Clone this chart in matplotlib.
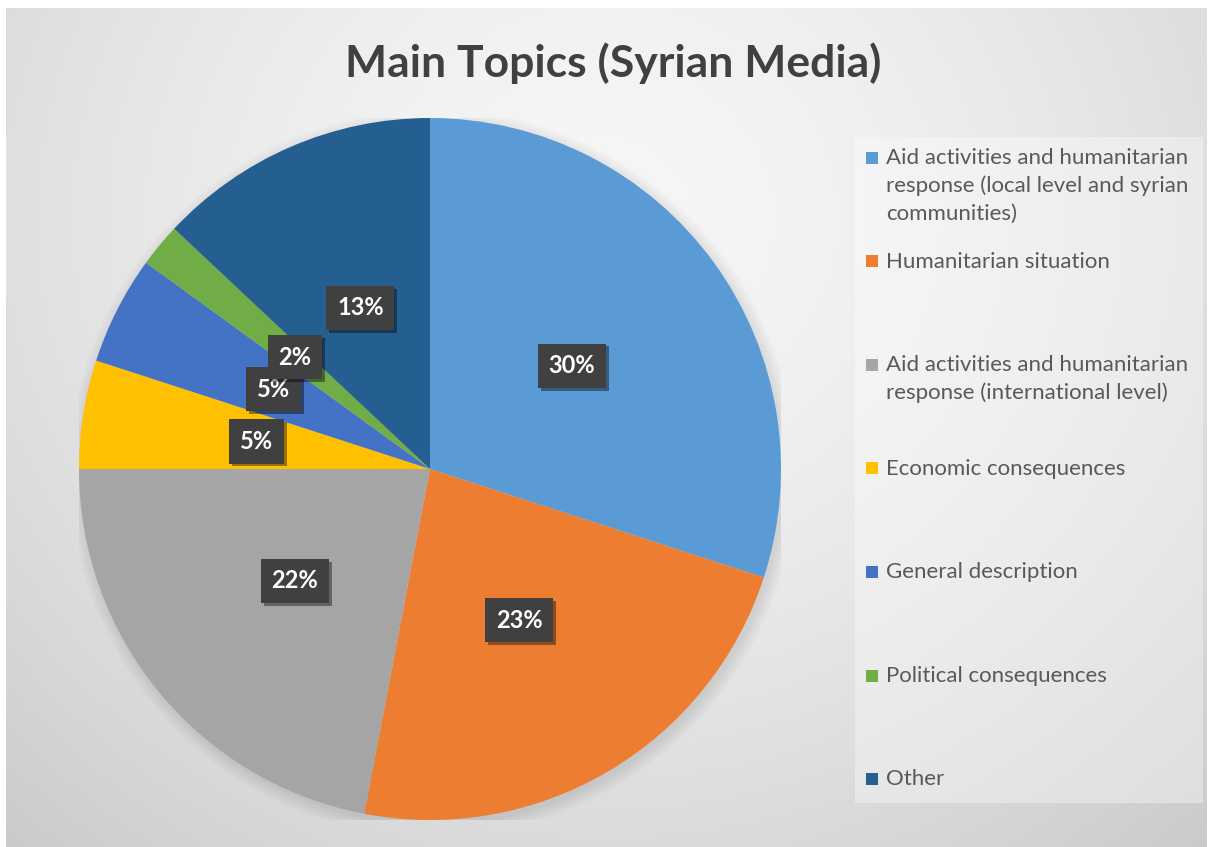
import textwrap
import numpy as np
import matplotlib.pyplot as plt
import matplotlib.patheffects as pe
from matplotlib.patches import Rectangle, Circle

# topic shares (percent)
topics = [
    "Aid activities and humanitarian response (local level and syrian communities)",
    "Humanitarian situation",
    "Aid activities and humanitarian response (international level)",
    "Economic consequences",
    "General description",
    "Political consequences",
    "Other",
]
shares = [30, 23, 22, 5, 5, 2, 13]
colors = ["#5B9BD5", "#ED7D31", "#A5A5A5", "#FFC000", "#4472C4", "#70AD47", "#255E91"]

W, H = 1210, 847
plt.rcParams['font.family'] = ['Lato', 'DejaVu Sans']

fig = plt.figure(figsize=(W / 100, H / 100), dpi=100, facecolor="white")


def fx(x):
    return x / W


def fy(y):
    return 1 - y / H


# radial grey backdrop
bg = fig.add_axes([fx(6), 0, fx(1207) - fx(6), fy(8)], zorder=-10)
gx, gy = np.meshgrid(np.linspace(0, 1, 400), np.linspace(0, 1, 300))
d = np.sqrt(((gx - 0.5) / 0.75) ** 2 + ((gy - 0.25) / 1.0) ** 2)
shade = np.clip(0.965 - 0.17 * d ** 1.6, 0.76, 1)
bg.imshow(np.dstack([shade] * 3), aspect="auto", extent=[0, 1, 1, 0])
bg.axis("off")

# pie
cx, cy, r = 430, 469, 351
ax = fig.add_axes([fx(cx - r), fy(cy + r), 2 * r / W, 2 * r / H])
# soft shadow under the pie
for k in range(8):
    ax.add_patch(Circle((0.008, -0.012), 1.0 + 0.005 * k, color="black",
                        alpha=0.012, lw=0, zorder=0))
wedges, texts, autotexts = ax.pie(
    shares, colors=colors, startangle=90, counterclock=False, radius=1,
    autopct=lambda p: f"{p:.0f}%", pctdistance=0.5,
    wedgeprops=dict(linewidth=0),
    textprops=dict(color="white", fontsize=17, fontweight="bold"),
)
for t in autotexts:
    t.set_bbox(dict(boxstyle="square,pad=0.45", fc="#404040", ec="none"))
    t.get_bbox_patch().set_path_effects(
        [pe.withSimplePatchShadow(offset=(2, -2), shadow_rgbFace="black", alpha=0.4)])
ax.set_aspect("equal")
ax.set_xlim(-1, 1)
ax.set_ylim(-1, 1)
ax.axis("off")

fig.text(fx(613), fy(63), "Main Topics (Syrian Media)", ha="center", va="center",
         fontsize=32, fontweight="bold", color="#404040")

# legend panel
fig.patches.append(Rectangle((fx(855), fy(803)), fx(1203) - fx(855), fy(137) - fy(803),
                             transform=fig.transFigure, fc="white", alpha=0.35,
                             ec="none", zorder=1))
for i, (name, c) in enumerate(zip(topics, colors)):
    y0 = 158 + i * 103.5
    fig.patches.append(Rectangle((fx(866), fy(y0 + 6)), 12 / W, 12 / H,
                                 transform=fig.transFigure, fc=c, ec="none", zorder=2))
    fig.text(fx(886), fy(y0 - 10), textwrap.fill(name, 32), ha="left", va="top",
             fontsize=16, color="#595959", linespacing=1.47, zorder=3)

fig.savefig("out.png", dpi=100, facecolor=fig.get_facecolor())
